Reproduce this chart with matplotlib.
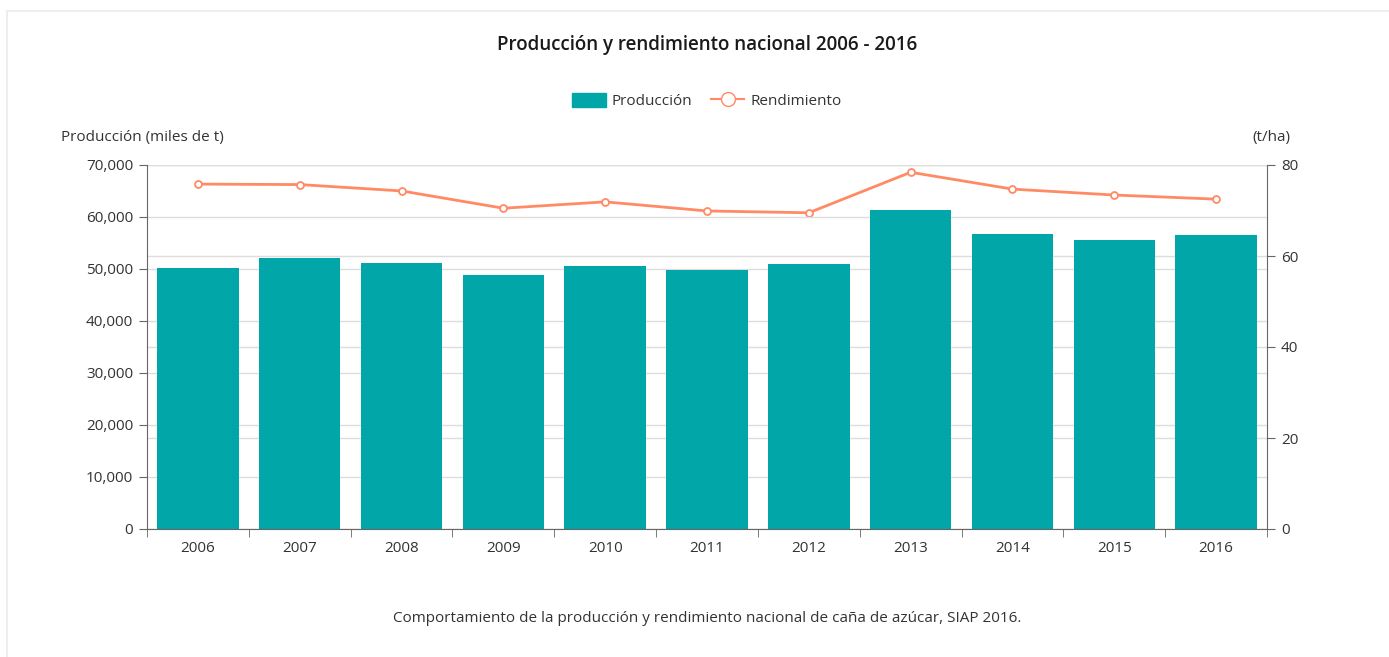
import numpy as np
import matplotlib.pyplot as plt
from matplotlib.patches import Rectangle
from matplotlib.lines import Line2D
from matplotlib.patches import Patch

plt.rcParams['font.family'] = ['Open Sans', 'DejaVu Sans']

anios = ['2006', '2007', '2008', '2009', '2010', '2011', '2012', '2013', '2014', '2015', '2016']
produccion = [50200, 52100, 51200, 48800, 50600, 49800, 51000, 61300, 56700, 55600, 56500]
rendimiento = [75.8, 75.7, 74.3, 70.5, 71.9, 69.9, 69.5, 78.4, 74.7, 73.4, 72.5]

color_barra = '#00A6A8'
color_linea = '#FF8A65'
gris = '#DDDDDD'
texto = '#333333'

fig = plt.figure(figsize=(13.89, 6.57), dpi=100)
fig.patches.append(Rectangle((7 / 1389, -0.1), 1.1, 1 - 11 / 657 + 0.1, transform=fig.transFigure,
                             fill=False, edgecolor='#EEEEEE', linewidth=1.5))

ax = fig.add_axes([147 / 1389, 1 - 529 / 657, 1120 / 1389, 364 / 657])
ax2 = ax.twinx()
# eje derecho detras, para que su rejilla quede bajo las barras
ax2.set_zorder(ax.get_zorder() - 1)
ax.patch.set_visible(False)

x = np.arange(len(anios))

ax.bar(x, produccion, width=0.8, color=color_barra, zorder=2)
ax.set_xlim(-0.5, len(anios) - 0.5)
ax.set_ylim(0, 70000)
ax.set_yticks(np.arange(0, 70001, 10000))
ax.set_yticklabels([f'{v:,}' for v in range(0, 70001, 10000)])
ax.grid(axis='y', color=gris, linewidth=1, zorder=0)
ax.set_axisbelow(True)

ax.set_xticks(x)
ax.set_xticklabels(anios)
ax.set_xticks(np.arange(-0.5, len(anios)), minor=True)
ax.tick_params(axis='x', which='major', length=0, pad=9, labelsize=11, labelcolor=texto)
ax.tick_params(axis='x', which='minor', length=6, color='#666666')
ax.tick_params(axis='y', length=6, color='#666666', labelsize=11, labelcolor=texto, pad=4)

for s in ['top', 'right']:
    ax.spines[s].set_visible(False)
ax.spines['left'].set_color('#666666')
ax.spines['bottom'].set_color('#666666')

ax2.set_ylim(0, 80)
ax2.set_yticks([0, 20, 40, 60, 80])
ax2.grid(axis='y', color=gris, linewidth=1, zorder=0)
ax2.plot(x, rendimiento, color=color_linea, linewidth=2, marker='o', markersize=5,
         markerfacecolor='white', markeredgecolor=color_linea, markeredgewidth=1.3, zorder=3)
ax2.tick_params(axis='y', length=6, color='#666666', labelsize=11, labelcolor=texto, pad=4)
for s in ['top', 'left', 'bottom']:
    ax2.spines[s].set_visible(False)
ax2.spines['right'].set_color('#666666')

fig.text(707 / 1389, 1 - 45 / 657, 'Producción y rendimiento nacional 2006 - 2016', ha='center', va='center',
         fontsize=13.5, fontweight='semibold', color='#1A1A1A')
fig.text(61 / 1389, 1 - 137 / 657, 'Producción (miles de t)', ha='left', va='center', fontsize=11, color=texto)
fig.text(1290 / 1389, 1 - 137 / 657, '(t/ha)', ha='right', va='center', fontsize=11, color=texto)
fig.text(707 / 1389, 1 - 618 / 657,
         'Comportamiento de la producción y rendimiento nacional de caña de azúcar, SIAP 2016.',
         ha='center', va='center', fontsize=11, color=texto)

handles = [Patch(facecolor=color_barra, edgecolor=color_barra),
           Line2D([0], [0], color=color_linea, linewidth=1.5, marker='o', markersize=10,
                  markerfacecolor='white', markeredgecolor=color_linea)]
fig.legend(handles, ['Producción', 'Rendimiento'], loc='center', bbox_to_anchor=(707 / 1389, 1 - 101 / 657),
           ncol=2, frameon=False, fontsize=11, handlelength=2.2, handleheight=1.0, columnspacing=1.2,
           handletextpad=0.4, labelcolor=texto)

fig.savefig('out.png', dpi=100)
